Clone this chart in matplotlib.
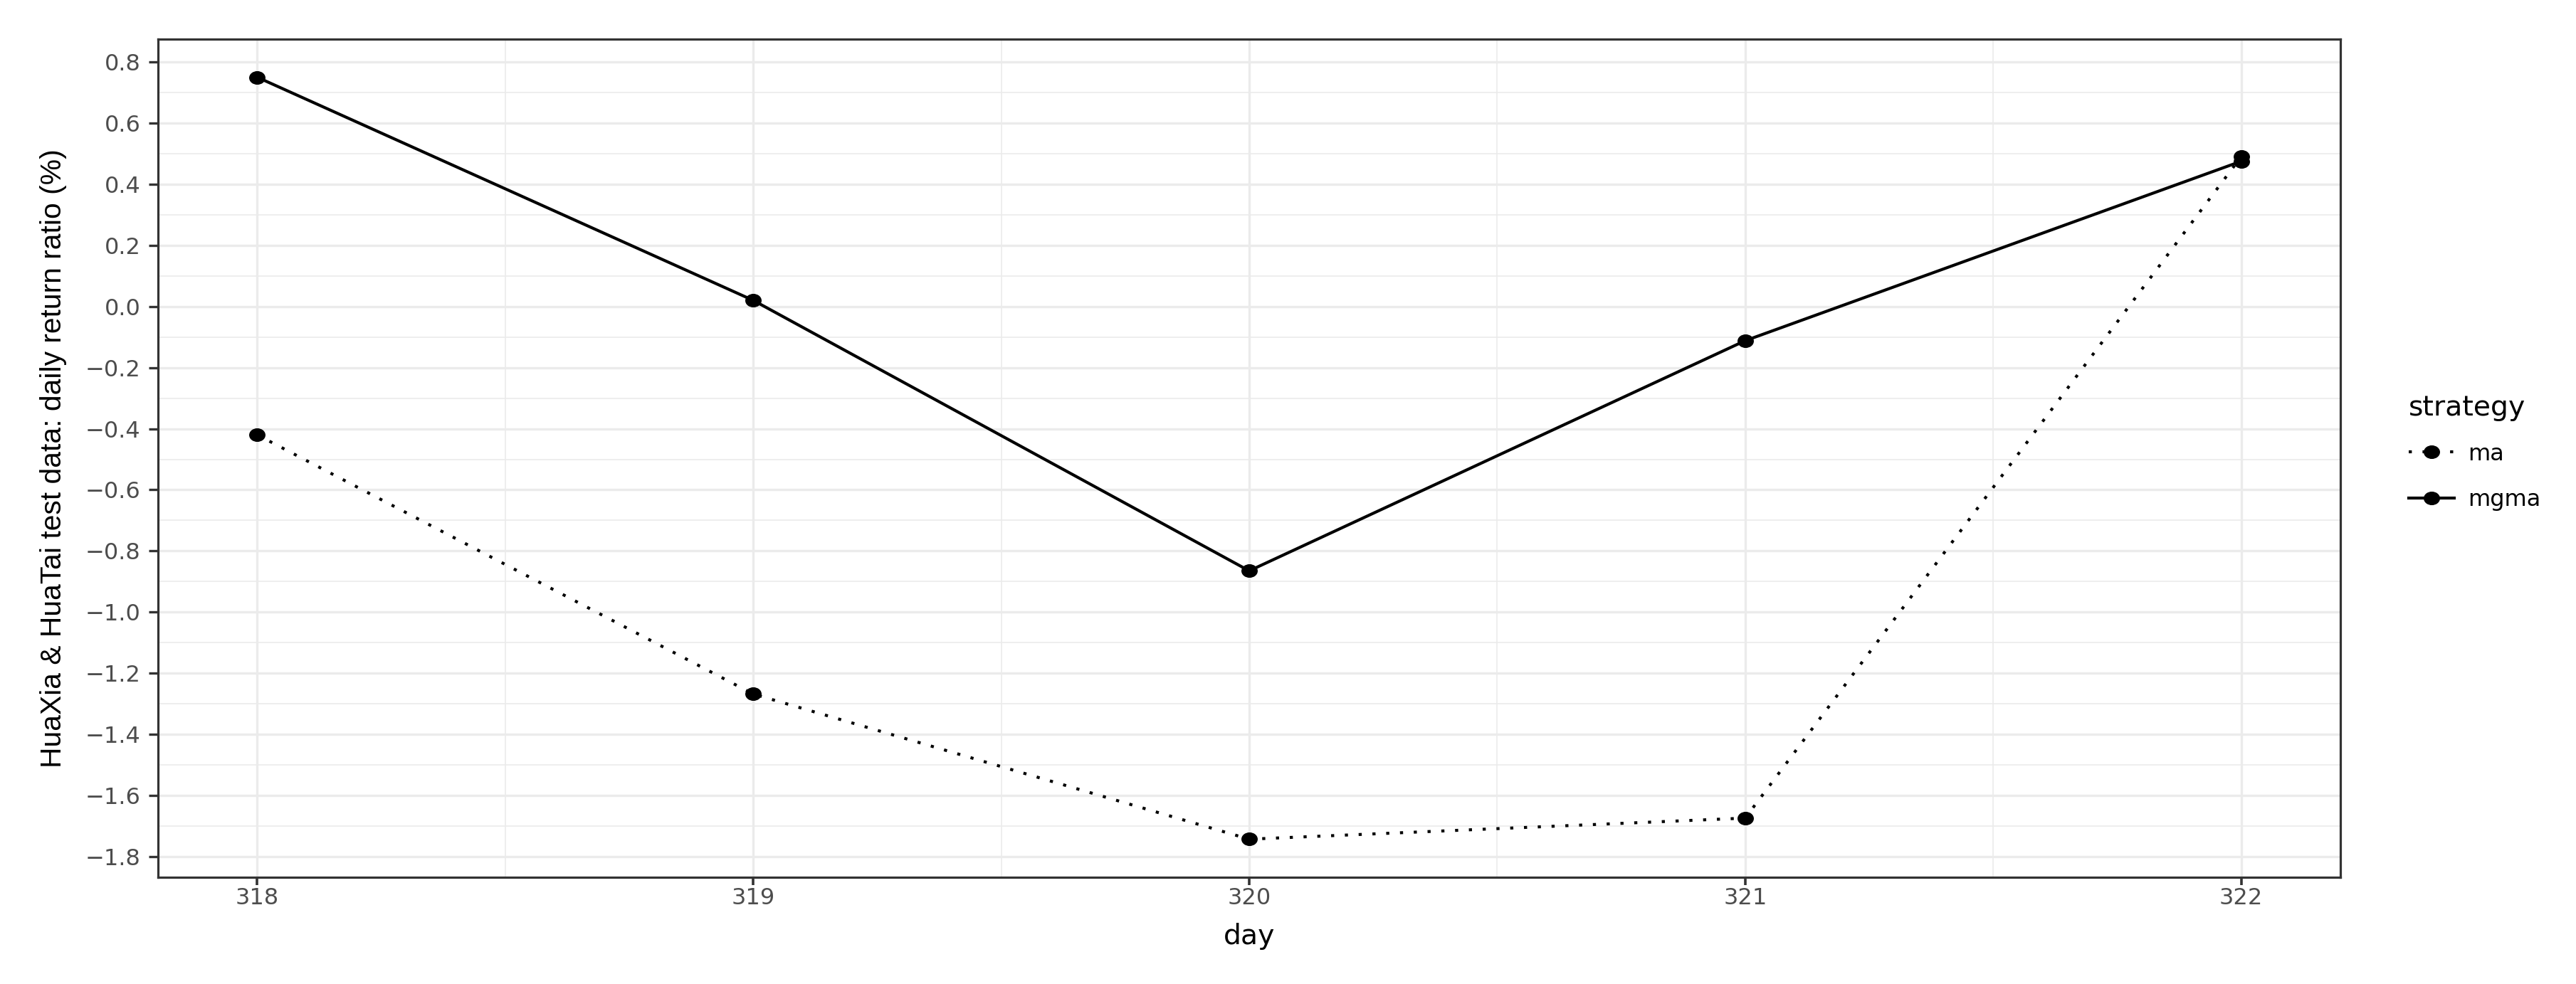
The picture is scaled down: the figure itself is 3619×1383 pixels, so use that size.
import numpy as np
import matplotlib
matplotlib.use('Agg')
import matplotlib.pyplot as plt
from matplotlib.path import Path
from matplotlib.ticker import MultipleLocator, FuncFormatter

# data
days = [318, 319, 320, 321, 322]
ma = [-0.42, -1.268, -1.743, -1.674, 0.49]
mgma = [0.75, 0.02, -0.865, -0.112, 0.475]
strategies = ['ma', 'mgma']

W, H = 3619, 1383
DPI = 100

# the reference is stretched sideways a bit, so points are slightly wide ellipses
circ = Path.unit_circle()
ell = Path(circ.vertices * np.array([1.0, 0.82]), circ.codes)

fig = plt.figure(figsize=(W / DPI, H / DPI), dpi=DPI)
ax = fig.add_axes([222 / W, 1 - 1233 / H, (3288 - 222) / W, (1233 - 55) / H])

ax.plot(days, ma, color='black', lw=3.0, linestyle=(0, (1.05, 3.6)),
        dash_capstyle='butt', marker=ell, markersize=15.5, label=strategies[0])
ax.plot(days, mgma, color='black', lw=3.0, linestyle='-',
        marker=ell, markersize=15.5, label=strategies[1])

lo = min(min(ma), min(mgma))
hi = max(max(ma), max(mgma))
pad = 0.05 * (hi - lo)
ax.set_ylim(lo - pad, hi + pad)
ax.set_xlim(days[0] - 0.2, days[-1] + 0.2)

ax.xaxis.set_major_locator(MultipleLocator(1))
ax.xaxis.set_minor_locator(MultipleLocator(0.5))
ax.yaxis.set_major_locator(MultipleLocator(0.2))
ax.yaxis.set_minor_locator(MultipleLocator(0.1))
ax.yaxis.set_major_formatter(FuncFormatter(lambda v, p: ('%.1f' % v).replace('-', '\u2212')))
ax.xaxis.set_major_formatter(FuncFormatter(lambda v, p: '%d' % round(v)))

ax.set_axisbelow(True)
ax.grid(which='major', color='#EBEBEB', lw=2.4)
ax.grid(which='minor', color='#EBEBEB', lw=1.2)

for s in ax.spines.values():
    s.set_color('#333333')
    s.set_linewidth(2.3)

ax.tick_params(which='minor', length=0)
ax.tick_params(axis='x', which='major', length=8, width=2.6, color='#333333',
               pad=2, labelsize=23, labelcolor='#4D4D4D')
ax.tick_params(axis='y', which='major', length=9.7, width=2.4, color='#333333',
               pad=8, labelsize=23, labelcolor='#4D4D4D')
for t in ax.get_xticklabels() + ax.get_yticklabels():
    t.set_family('DejaVu Sans')

ax.set_xlabel('day', fontsize=28.4, family='DejaVu Sans', color='black')
ax.xaxis.set_label_coords(0.5, -(1297 - 1233) / (1233 - 55))
ax.set_ylabel('HuaXia & HuaTai test data: daily return ratio (%)',
              fontsize=29.3, family='Liberation Sans', color='black')
ax.yaxis.set_label_coords(-(222 - 94) / (3288 - 222), 0.5)

leg = ax.legend(loc='upper left', bbox_to_anchor=(3368 / W, 1 - 538 / H),
                bbox_transform=fig.transFigure, frameon=False, borderpad=0,
                title='strategy', alignment='left', handlelength=2.0,
                handletextpad=0.6, labelspacing=1.05,
                prop={'family': 'DejaVu Sans', 'size': 23},
                title_fontproperties={'family': 'DejaVu Sans', 'size': 28.4})
leg._legend_box.sep = 22

fig.savefig('out.png', dpi=DPI)
